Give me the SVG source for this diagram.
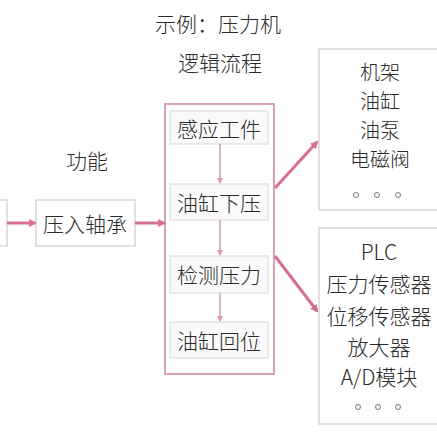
<svg xmlns="http://www.w3.org/2000/svg" width="437" height="437" viewBox="0 0 437 437">
<style>
text{font-family:"Noto Sans CJK SC","Liberation Sans",sans-serif;fill:#2a2a2a;text-anchor:middle;dominant-baseline:central;font-weight:300}
.t{font-size:21px}
.s{font-size:20px}
.b{fill:#fff;stroke:#ddd2d6;stroke-width:1.5}
.ib{fill:#fbfafa;stroke:#e0dcdd;stroke-width:1.2}
.big{fill:#fff;stroke:#d9a3b4;stroke-width:2}
.a{stroke:#d66f93;stroke-width:3;fill:none}
.av{stroke:#d99aad;stroke-width:1.5;fill:none}
.dot{fill:none;stroke:#777;stroke-width:1}
</style>
<defs>
<marker id="ah" markerWidth="8" markerHeight="8" refX="6" refY="4" orient="auto" markerUnits="userSpaceOnUse" viewBox="0 0 8 8"><path d="M0,0 L8,4 L0,8 Z" fill="#d66f93"/></marker>
<marker id="ahs" markerWidth="6" markerHeight="6" refX="5" refY="3" orient="auto" markerUnits="userSpaceOnUse" viewBox="0 0 6 6"><path d="M0,0 L6,3 L0,6 Z" fill="#d99aad"/></marker>
</defs>
<rect width="437" height="437" fill="#fff"/>
<text class="t" x="218" y="23">示例：压力机</text>
<text class="t" x="220" y="62">逻辑流程</text>
<text class="t" x="87" y="160">功能</text>
<g id="left"><rect class="b" x="-10" y="200" width="17" height="46"/></g>
<g id="press"><rect class="b" x="36" y="200" width="99" height="46"/><text class="t" x="85" y="223">压入轴承</text></g>
<g id="flow"><rect class="big" x="165" y="104" width="109" height="270"/></g>
<g id="s1"><rect class="ib" x="170" y="111" width="98" height="33"/><text class="t" x="219" y="128">感应工件</text></g>
<g id="s2"><rect class="ib" x="170" y="184" width="98" height="36"/><text class="t" x="219" y="202">油缸下压</text></g>
<g id="s3"><rect class="ib" x="170" y="256" width="98" height="37"/><text class="t" x="219" y="274">检测压力</text></g>
<g id="s4"><rect class="ib" x="170" y="322" width="98" height="36"/><text class="t" x="219" y="340">油缸回位</text></g>
<g id="hw1"><rect class="b" x="319" y="49" width="125" height="161"/>
<text class="s" x="380" y="71">机架</text><text class="s" x="380" y="100">油缸</text><text class="s" x="380" y="129">油泵</text><text class="s" x="380" y="158">电磁阀</text>
<circle class="dot" cx="356" cy="195" r="2.5"/><circle class="dot" cx="377" cy="195" r="2.5"/><circle class="dot" cx="398" cy="195" r="2.5"/></g>
<g id="hw2"><rect class="b" x="319" y="228" width="125" height="196"/>
<text class="t" x="379" y="251">PLC</text><text class="t" x="379" y="283">压力传感器</text><text class="t" x="379" y="315">位移传感器</text><text class="t" x="379" y="346">放大器</text><text class="t" x="379" y="376">A/D模块</text>
<circle class="dot" cx="358" cy="407" r="2.5"/><circle class="dot" cx="378" cy="407" r="2.5"/><circle class="dot" cx="398" cy="407" r="2.5"/></g>
<g id="connectors">
<line class="a" x1="7" y1="223" x2="35" y2="223" marker-end="url(#ah)"/>
<line class="a" x1="135" y1="223" x2="164" y2="223" marker-end="url(#ah)"/>
<line class="a" x1="275" y1="188" x2="317" y2="142" marker-end="url(#ah)"/>
<line class="a" x1="275" y1="256" x2="317" y2="311" marker-end="url(#ah)"/>
<line class="av" x1="220" y1="144" x2="220" y2="183" marker-end="url(#ahs)"/>
<line class="av" x1="220" y1="220" x2="220" y2="255" marker-end="url(#ahs)"/>
<line class="av" x1="220" y1="293" x2="220" y2="321" marker-end="url(#ahs)"/>
</g>
</svg>
